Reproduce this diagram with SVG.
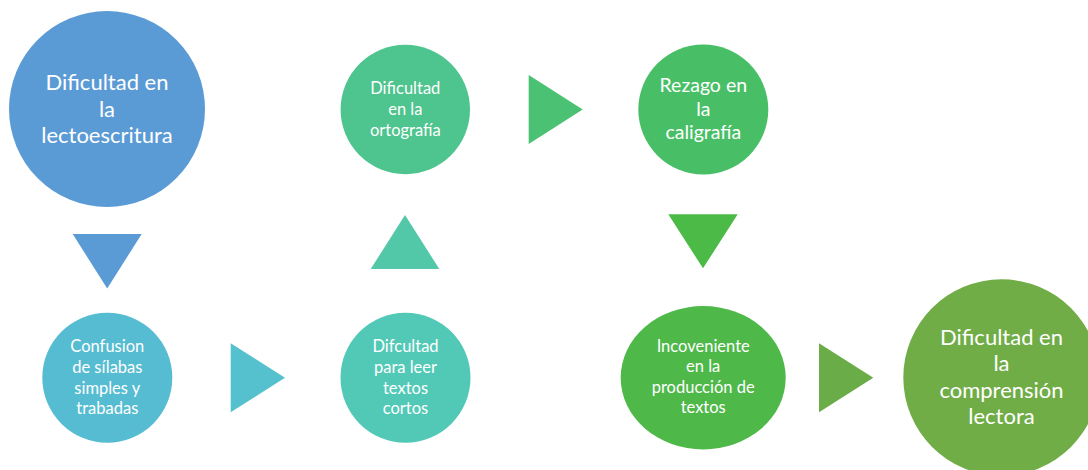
<svg xmlns="http://www.w3.org/2000/svg" width="1088" height="470" viewBox="0 0 1088 470">
<style>
text{font-family:Lato,"Open Sans","Liberation Sans",sans-serif;fill:#ffffff;text-anchor:middle}
.big{font-size:22px}
.mid{font-size:19.5px}
.sm{font-size:16.5px}
</style>
<rect width="1088" height="470" fill="#ffffff"/>
<g id="connectors">
<polygon points="72.7,234 141.7,234 107.2,288.5" fill="#5B9BD5"/>
<polygon points="230.7,343.3 230.7,412.3 285,377.8" fill="#55C1CF"/>
<polygon points="370.7,269 439.3,269 405,215" fill="#52C8A8"/>
<polygon points="528.7,75 528.7,144 582.7,109.5" fill="#4AC173"/>
<polygon points="668.3,214.3 737.7,214.3 703,268.3" fill="#4BBA46"/>
<polygon points="819,343.3 819,412.3 873.3,377.8" fill="#6AAD48"/>
</g>
<g id="n1">
<circle cx="107" cy="109" r="98" fill="#5B9BD5"/>
<text class="big" x="107" y="90">Dificultad en</text>
<text class="big" x="107" y="117">la</text>
<text class="big" x="107" y="143">lectoescritura</text>
</g>
<g id="n2">
<circle cx="107.3" cy="377.7" r="65" fill="#56BCD1"/>
<text class="sm" x="107.3" y="352.3">Confusion</text>
<text class="sm" x="107.3" y="373">de sílabas</text>
<text class="sm" x="107.3" y="393.5">simples y</text>
<text class="sm" x="107.3" y="414">trabadas</text>
</g>
<g id="n3">
<circle cx="405.5" cy="377.7" r="65" fill="#52C9B6"/>
<text class="sm" x="405.5" y="352.3">Difcultad</text>
<text class="sm" x="405.5" y="373">para leer</text>
<text class="sm" x="405.5" y="393.5">textos</text>
<text class="sm" x="405.5" y="414">cortos</text>
</g>
<g id="n4">
<circle cx="405.3" cy="109.5" r="64.7" fill="#4EC48E"/>
<text class="sm" x="405.3" y="94">Dificultad</text>
<text class="sm" x="405.3" y="115">en la</text>
<text class="sm" x="405.3" y="136">ortografía</text>
</g>
<g id="n5">
<circle cx="703.3" cy="109.5" r="65" fill="#48BF66"/>
<text class="mid" x="703.3" y="92.3">Rezago en</text>
<text class="mid" x="703.3" y="116">la</text>
<text class="mid" x="703.3" y="138.7">caligrafía</text>
</g>
<g id="n6">
<ellipse cx="703.2" cy="377.7" rx="82.5" ry="71.7" fill="#4EB849"/>
<text class="sm" x="703.2" y="351.7">Incoveniente</text>
<text class="sm" x="703.2" y="371.7">en la</text>
<text class="sm" x="703.2" y="393.3">producción de</text>
<text class="sm" x="703.2" y="413.3">textos</text>
</g>
<g id="n7">
<circle cx="1001.5" cy="377.5" r="98.2" fill="#70AD47"/>
<text class="big" x="1001.5" y="345">Dificultad en</text>
<text class="big" x="1001.5" y="370.5">la</text>
<text class="big" x="1001.5" y="398.3">comprensión</text>
<text class="big" x="1001.5" y="423.8">lectora</text>
</g>
</svg>
